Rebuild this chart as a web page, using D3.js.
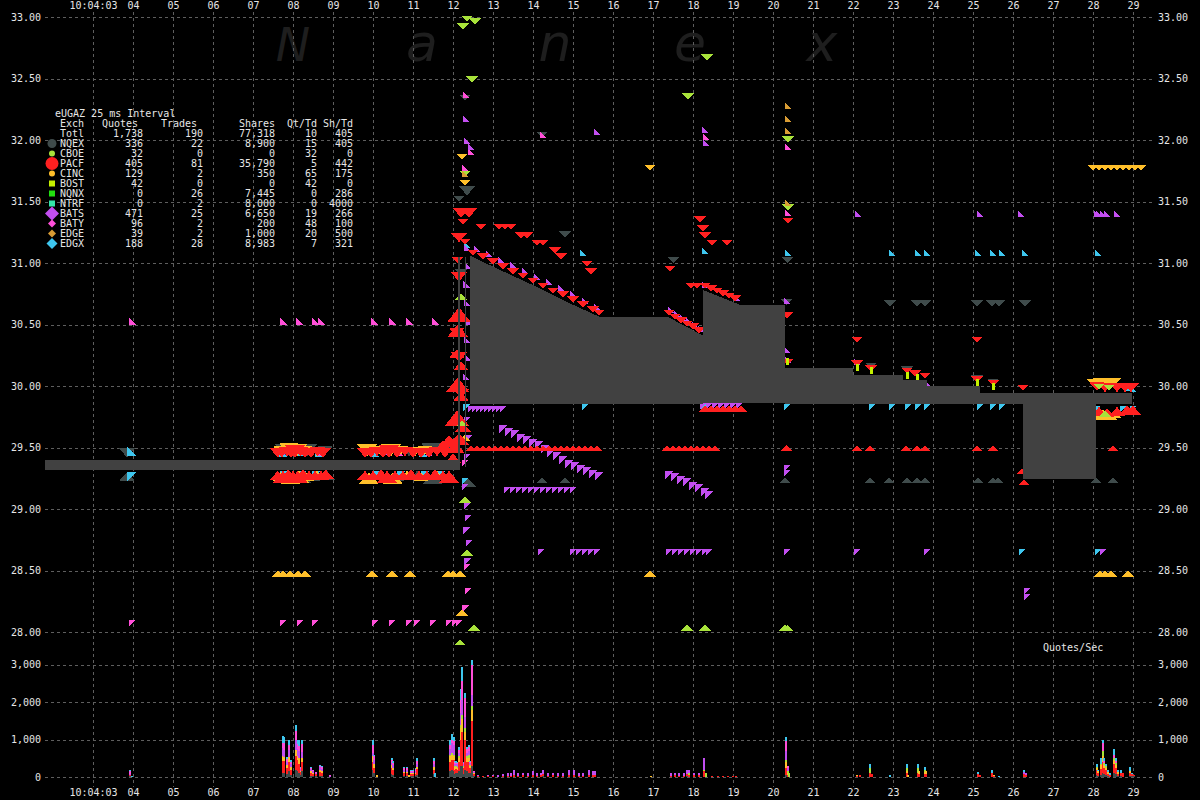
<!DOCTYPE html>
<html><head><meta charset="utf-8">
<script src="https://cdn.jsdelivr.net/npm/d3@7"></script>
<style>html,body{margin:0;padding:0;background:#000}svg{display:block}</style>
</head><body><svg id="c" width="1200" height="800"></svg>
<script>
// ---------------- DATA ----------------
const symbol = "eUGAZ";
const intervalLabel = "25 ms Interval";
const timeTicks = [3,4,5,6,7,8,9,10,11,12,13,14,15,16,17,18,19,20,21,22,23,24,25,26,27,28,29];
const timeTickLabels = ["10:04:03","04","05","06","07","08","09","10","11","12","13","14","15","16","17","18","19","20","21","22","23","24","25","26","27","28","29"];
const priceTicks = [28,28.5,29,29.5,30,30.5,31,31.5,32,32.5,33];
const volTicks = [0,1000,2000,3000];

const legendHeaders = ["Quotes","Trades","Shares","Qt/Td","Sh/Td"];
const totalRow = [1738,190,77318,10,405];
const exchNames  = ["NQEX","CBOE","PACF","CINC","BOST","NQNX","NTRF","BATS","BATY","EDGE","EDGX"];
const exchQuotes = [336,32,405,129,42,0,0,471,96,39,188];
const exchTrades = [22,0,81,2,0,26,2,25,2,2,28];
const exchShares = [8900,0,35790,350,0,7445,8000,6650,200,1000,8983];
const exchQtTd   = [15,32,5,65,42,0,0,19,48,20,7];
const exchShTd   = [405,0,442,175,0,286,4000,266,100,500,321];

// NBBO spread band (time in seconds after 10:04:00)
const nbboT   = [1.8,12.125,12.125,12.175,12.175,12.3,12.3,12.33,12.33,12.43,12.43,13.0,14.0,15.0,15.68,17.38,18.25,18.25,19.18,20.3,20.3,22.0,22.0,23.25,23.25,23.85,23.85,25.18,25.18,26.25,26.25,28.08,28.08,28.97];
const nbboBid = [29.32,29.32,29.32,29.32,29.40,29.40,29.34,29.34,29.85,29.85,29.85,29.85,29.85,29.85,29.85,29.85,29.85,29.865,29.865,29.865,29.85,29.85,29.85,29.85,29.85,29.85,29.85,29.85,29.85,29.85,29.24,29.24,29.85,29.85];
const nbboAsk = [29.40,29.40,31.05,31.05,29.40,29.40,31.05,31.05,29.85,29.85,31.06,30.97,30.82,30.66,30.56,30.56,30.41,30.78,30.66,30.66,30.15,30.15,30.09,30.09,30.05,30.05,30.00,30.00,29.94,29.94,29.94,29.94,29.94,29.94];

// quotes: [time, price, side (a=ask, b=bid), size (hundreds)]
const qNQEX = [
 [3.85,29.42,'a',2],[3.85,29.30,'b',2],
 [7.8,29.43,'a',3],[8.0,29.44,'a',2],[8.35,29.43,'a',3],[8.8,29.44,'a',2],
 [7.85,29.30,'b',2],[8.2,29.31,'b',3],[8.5,29.30,'b',2],[8.85,29.31,'b',2],
 [10.0,29.43,'a',2],[10.55,29.44,'a',2],[10.9,29.43,'a',2],[11.45,29.44,'a',3],[11.8,29.43,'a',2],
 [10.05,29.31,'b',2],[10.6,29.30,'b',2],[11.1,29.31,'b',2],[11.5,29.30,'b',3],
 [12.3,32.32,'a',1],[12.35,31.55,'a',2],[12.2,30.90,'a',1],[12.38,29.25,'b',2],[12.15,31.5,'a',1],
 [14.225,32.02,'a',1],[14.8,31.21,'a',1],[14.225,29.26,'b',1],[14.8,29.26,'b',1],
 [17.5,31.0,'a',1],[20.33,30.66,'a',1],[20.35,31.0,'a',1],[20.3,29.26,'b',1],
 [22.925,30.65,'a',1],[23.6,30.65,'a',1],[23.8,30.65,'a',1],[25.1,30.65,'a',1],[25.475,30.65,'a',1],[25.65,30.65,'a',1],[26.3,30.65,'a',1],
 [22.45,30.14,'a',1],[23.35,30.11,'a',1],[23.8,30.06,'a',1],[25.1,30.04,'a',1],[25.5,30.01,'a',1],
 [22.425,29.26,'b',1],[22.9,29.26,'b',1],[23.35,29.26,'b',1],[23.6,29.26,'b',1],[23.8,29.26,'b',1],[25.125,29.26,'b',1],[25.5,29.26,'b',1],[25.625,29.26,'b',1],[28.075,29.26,'b',1],[28.5,29.26,'b',1]
];
const qCBOE = [
 [12.25,32.90,'a',1],[12.35,32.96,'a',1],[12.55,32.94,'a',1],[12.475,32.47,'a',1],[18.35,32.65,'a',1],[17.875,32.33,'a',1],[20.375,31.98,'a',1],[20.375,31.43,'a',1],
 [12.525,28.06,'b',1],[17.85,28.06,'b',1],[18.3,28.06,'b',1],[20.3,28.06,'b',1],[20.36,28.06,'b',1],[12.175,27.94,'b',1],
 [12.2,30.75,'b',1],[12.22,29.72,'b',1],[12.3,29.1,'b',1],[12.35,28.67,'b',1],[12.3,31.7,'a',1],
 [28.15,29.97,'a',1],[28.4,29.96,'a',1],[28.3,29.80,'b',1]
];
const qPACF = [
 [7.62,29.42,'a',2],[7.72,29.42,'a',2],[7.85,29.43,'a',2],[7.95,29.42,'a',2],[8.05,29.42,'a',3],[8.18,29.43,'a',2],[8.3,29.42,'a',2],[8.45,29.42,'a',2],[8.62,29.43,'a',2],[8.75,29.42,'a',2],
 [7.62,29.31,'b',2],[7.75,29.31,'b',3],[7.88,29.32,'b',2],[8.0,29.31,'b',2],[8.12,29.31,'b',3],[8.25,29.32,'b',2],[8.4,29.31,'b',2],[8.55,29.31,'b',2],[8.7,29.31,'b',2],[8.82,29.32,'b',2],
 [9.8,29.42,'a',2],[9.95,29.42,'a',2],[10.1,29.43,'a',2],[10.25,29.42,'a',2],[10.4,29.42,'a',3],[10.6,29.42,'a',2],[10.8,29.43,'a',2],[11.0,29.42,'a',2],[11.2,29.42,'a',2],[11.4,29.42,'a',2],[11.6,29.43,'a',2],[11.8,29.42,'a',2],
 [9.8,29.31,'b',2],[10.0,29.31,'b',2],[10.2,29.32,'b',2],[10.35,29.31,'b',3],[10.55,29.31,'b',2],[10.75,29.31,'b',2],[10.95,29.32,'b',2],[11.15,29.31,'b',2],[11.35,29.31,'b',2],[11.55,29.32,'b',2],[11.75,29.31,'b',2],[11.9,29.31,'b',3],
 [11.75,29.56,'b',3],[11.9,29.60,'b',3],
 [12.2,31.37,'a',2],[12.4,31.37,'a',2],[12.25,31.31,'a',1],[12.15,31.17,'a',2],[12.3,31.15,'a',1],[12.7,31.27,'a',1],[13.15,31.27,'a',1],[13.3,31.27,'a',1],[13.45,31.27,'a',1],
 [13.7,31.20,'a',1],[13.85,31.20,'a',1],[14.1,31.14,'a',1],[14.25,31.14,'a',1],[14.55,31.08,'a',1],[14.7,31.03,'a',1],[15.35,30.97,'a',1],[15.45,30.91,'a',1],
 [12.15,30.20,'a',2],[12.1,30.40,'a',2],[12.2,29.90,'a',2],[12.15,30.85,'a',2],[12.1,31.0,'a',1],
 [12.15,30.64,'b',4],[12.12,30.50,'b',3],[12.1,30.30,'b',2],[12.12,30.07,'b',4],[12.2,29.95,'b',2],[12.1,29.80,'b',4],[12.15,29.62,'b',3],[12.05,29.55,'b',3],[12.25,29.70,'b',2],[12.2,30.20,'b',2],[12.0,29.45,'b',2],
 [12.5,31.06,'a',1],[12.75,31.03,'a',1],[13.0,30.99,'a',1],[13.25,30.95,'a',1],[13.5,30.91,'a',1],[13.75,30.87,'a',1],[14.0,30.83,'a',1],[14.25,30.79,'a',1],[14.5,30.75,'a',1],[14.75,30.72,'a',1],[15.0,30.68,'a',1],[15.25,30.64,'a',1],[15.5,30.60,'a',1],[15.65,30.57,'a',1],
 [12.45,29.52,'b',1],[12.6,29.52,'b',1],[12.75,29.52,'b',1],[12.9,29.52,'b',1],[13.05,29.52,'b',1],[13.2,29.52,'b',1],[13.35,29.52,'b',1],[13.5,29.52,'b',1],[13.65,29.52,'b',1],[13.8,29.52,'b',1],[13.95,29.52,'b',1],
 [14.1,29.52,'b',1],[14.25,29.52,'b',1],[14.4,29.52,'b',1],[14.55,29.52,'b',1],[14.7,29.52,'b',1],[14.85,29.52,'b',1],[15.0,29.52,'b',1],[15.15,29.52,'b',1],[15.3,29.52,'b',1],[15.45,29.52,'b',1],[15.6,29.52,'b',1],
 [17.35,29.52,'b',1],[17.5,29.52,'b',1],[17.65,29.52,'b',1],[17.8,29.52,'b',1],[17.95,29.52,'b',1],[18.1,29.52,'b',1],[18.25,29.52,'b',1],[18.4,29.52,'b',1],[18.55,29.52,'b',1],
 [17.4,30.57,'a',1],[17.55,30.54,'a',1],[17.7,30.51,'a',1],[17.85,30.48,'a',1],[18.0,30.46,'a',1],[18.15,30.43,'a',1],
 [17.95,30.79,'a',1],[18.1,30.79,'a',1],[18.3,30.79,'a',1],[18.45,30.77,'a',1],[18.6,30.75,'a',1],[18.75,30.73,'a',1],[18.9,30.71,'a',1],[19.05,30.69,'a',1],
 [18.3,29.84,'b',1],[18.45,29.84,'b',1],[18.6,29.84,'b',1],[18.75,29.84,'b',1],[18.9,29.84,'b',1],[19.05,29.84,'b',1],[19.2,29.84,'b',1],
 [18.175,31.33,'a',1],[18.25,31.26,'a',1],[18.3,31.20,'a',1],[18.475,31.14,'a',1],[18.85,31.14,'a',1],[17.425,30.93,'a',1],
 [20.35,30.55,'a',1],[20.37,30.17,'a',1],[20.375,31.32,'a',1],[20.33,29.52,'b',1],
 [22.1,30.35,'a',1],[25.1,30.35,'a',1],
 [22.1,30.16,'a',1],[22.45,30.12,'a',1],[23.35,30.10,'a',1],[23.55,30.08,'a',1],[23.8,30.06,'a',1],[25.1,30.03,'a',1],[25.5,30.00,'a',1],[26.25,29.96,'a',1],
 [22.1,29.52,'b',1],[22.425,29.52,'b',1],[23.325,29.52,'b',1],[23.6,29.52,'b',1],[23.8,29.52,'b',1],[25.1,29.52,'b',1],[25.5,29.52,'b',1],[28.5,29.52,'b',1],
 [26.22,29.33,'b',1],[26.275,29.24,'b',1],
 [28.1,29.96,'a',2],[28.3,29.95,'a',2],[28.6,29.95,'a',2],[28.8,29.95,'a',2],[28.95,29.95,'a',2],
 [28.15,29.83,'b',2],[28.35,29.82,'b',2],[28.6,29.83,'b',2],[28.85,29.84,'b',2],[29.0,29.84,'b',2]
];
const qCINC = [
 [7.7,29.44,'a',2],[7.9,29.44,'a',3],[8.1,29.43,'a',3],[8.28,29.44,'a',2],[8.6,29.43,'a',2],
 [7.68,29.30,'b',2],[7.95,29.30,'b',3],[8.15,29.31,'b',3],[8.35,29.30,'b',2],[8.6,29.31,'b',2],
 [9.85,29.43,'a',3],[10.15,29.44,'a',2],[10.45,29.43,'a',3],[10.7,29.44,'a',2],[11.05,29.43,'a',2],[11.3,29.44,'a',2],
 [9.9,29.30,'b',3],[10.2,29.31,'b',2],[10.5,29.30,'b',3],[10.85,29.31,'b',2],[11.2,29.30,'b',2],[11.6,29.31,'b',2],
 [7.625,28.50,'b',1],[7.75,28.50,'b',1],[7.925,28.50,'b',1],[8.125,28.50,'b',1],[8.3,28.50,'b',1],[9.975,28.50,'b',1],[10.475,28.50,'b',1],[10.925,28.50,'b',1],
 [11.875,28.50,'b',1],[12.0,28.50,'b',1],[12.175,28.50,'b',1],[16.925,28.50,'b',1],[28.175,28.50,'b',1],[28.3,28.50,'b',1],[28.45,28.50,'b',1],[28.875,28.50,'b',1],
 [12.3,31.63,'a',1],[12.225,31.84,'a',1],[12.28,29.6,'b',1],[12.225,28.18,'b',1],[16.925,31.75,'a',1],
 [28.0,31.75,'a',1],[28.15,31.75,'a',1],[28.3,31.75,'a',1],[28.45,31.75,'a',1],[28.6,31.75,'a',1],[28.75,31.75,'a',1],[28.9,31.75,'a',1],[29.05,31.75,'a',1],[29.2,31.75,'a',1],
 [28.05,29.98,'a',2],[28.2,29.99,'a',2],[28.35,29.98,'a',2],[28.5,29.99,'a',2],[28.65,29.97,'a',1],
 [28.08,29.80,'b',2],[28.25,29.81,'b',2],[28.4,29.80,'b',2],[28.55,29.79,'b',1]
];
const qBOST = [
 [20.36,30.17,'a',1],[22.1,30.12,'a',1],[22.45,30.10,'a',1],[23.35,30.06,'a',1],[23.6,30.04,'a',1],[25.1,30.00,'a',1],[25.5,29.97,'a',1]
];
const qBATS = [
 [7.72,29.44,'a',1],[8.45,29.44,'a',1],[10.4,29.44,'a',1],[11.0,29.44,'a',1],[10.9,29.30,'b',1],
 [12.325,32.15,'a',1],[12.35,31.97,'a',1],[12.45,31.92,'a',1],
 [12.35,31.10,'a',1],[12.38,30.95,'a',1],[12.33,30.80,'a',1],[12.36,30.65,'a',1],[12.4,30.50,'a',1],[12.35,30.35,'a',1],[12.38,30.20,'a',1],[12.33,30.05,'a',1],
 [12.35,29.75,'b',1],[12.4,29.60,'b',1],[12.35,29.45,'b',1],[12.3,29.20,'b',1],[12.35,29.05,'b',1],[12.38,28.95,'b',1],[12.33,28.85,'b',1],[12.4,28.75,'b',1],[12.36,28.60,'b',1],
 [12.6,31.09,'a',1],[12.9,31.05,'a',1],[13.2,31.00,'a',1],[13.5,30.96,'a',1],[13.8,30.91,'a',1],[14.1,30.86,'a',1],[14.4,30.82,'a',1],[14.7,30.77,'a',1],[15.0,30.72,'a',1],[15.3,30.67,'a',1],[15.6,30.62,'a',1],
 [12.45,29.84,'b',1],[12.55,29.84,'b',1],[12.65,29.84,'b',1],[12.75,29.84,'b',1],[12.85,29.84,'b',1],[12.95,29.84,'b',1],[13.05,29.84,'b',1],[13.15,29.84,'b',1],[13.25,29.84,'b',1],
 [13.25,29.68,'b',2],[13.4,29.66,'b',2],[13.55,29.64,'b',2],[13.7,29.61,'b',2],[13.85,29.59,'b',2],[14.0,29.57,'b',2],[14.15,29.55,'b',2],[14.3,29.52,'b',2],
 [14.45,29.49,'b',2],[14.6,29.46,'b',2],[14.75,29.43,'b',2],[14.9,29.40,'b',2],[15.05,29.38,'b',2],[15.2,29.36,'b',2],[15.35,29.34,'b',2],[15.5,29.32,'b',2],[15.65,29.30,'b',2],
 [13.35,29.18,'b',1],[13.5,29.18,'b',1],[13.65,29.18,'b',1],[13.8,29.18,'b',1],[13.95,29.18,'b',1],[14.1,29.18,'b',1],[14.25,29.18,'b',1],[14.4,29.18,'b',1],[14.55,29.18,'b',1],[14.7,29.18,'b',1],[14.85,29.18,'b',1],[15.0,29.18,'b',1],
 [14.2,28.675,'b',1],[15.0,28.675,'b',1],[15.15,28.675,'b',1],[15.3,28.675,'b',1],[15.45,28.675,'b',1],[15.6,28.675,'b',1],
 [17.4,28.675,'b',1],[17.55,28.675,'b',1],[17.7,28.675,'b',1],[17.85,28.675,'b',1],[18.0,28.675,'b',1],[18.15,28.675,'b',1],[18.3,28.675,'b',1],[18.4,28.675,'b',1],
 [20.35,28.675,'b',1],[22.1,28.675,'b',1],[23.85,28.675,'b',1],[28.25,28.675,'b',1],
 [15.6,32.04,'a',1],[18.3,32.06,'a',1],[18.33,31.95,'a',1],
 [17.45,30.59,'a',1],[17.6,30.56,'a',1],[17.75,30.53,'a',1],[17.9,30.50,'a',1],[18.05,30.47,'a',1],[18.2,30.44,'a',1],
 [18.3,30.80,'a',1],[19.1,30.69,'a',1],
 [17.4,29.31,'b',2],[17.55,29.29,'b',2],[17.7,29.27,'b',2],[17.85,29.25,'b',2],[18.0,29.22,'b',2],[18.15,29.20,'b',2],[18.3,29.17,'b',2],[18.4,29.15,'b',2],
 [18.25,29.86,'b',1],[18.4,29.86,'b',1],[18.55,29.86,'b',1],[18.7,29.86,'b',1],[18.85,29.86,'b',1],[19.0,29.86,'b',1],[19.15,29.86,'b',1],
 [20.35,30.67,'a',1],[20.35,30.27,'a',1],[20.37,30.19,'a',1],[20.35,29.36,'b',1],[20.35,29.32,'b',1],
 [22.125,31.37,'a',1],[25.175,31.37,'a',1],[26.2,31.37,'a',1],[28.1,31.37,'a',1],[28.15,31.37,'a',1],[28.25,31.37,'a',1],[28.35,31.37,'a',1],[28.6,31.37,'a',1],
 [22.1,30.17,'a',1],[23.85,30.00,'a',1],
 [26.35,28.36,'b',1],[26.35,28.31,'b',1]
];
const qBATY = [
 [3.975,30.50,'a',1],[7.75,30.50,'a',1],[8.15,30.50,'a',1],[8.55,30.50,'a',1],[8.7,30.50,'a',1],[10.025,30.50,'a',1],[10.475,30.50,'a',1],[10.9,30.50,'a',1],[11.55,30.50,'a',1],
 [3.975,28.10,'b',1],[7.75,28.10,'b',1],[8.175,28.10,'b',1],[8.55,28.10,'b',1],[10.05,28.10,'b',1],[10.475,28.10,'b',1],[10.9,28.10,'b',1],[11.1,28.10,'b',1],[11.5,28.10,'b',1],[11.9,28.10,'b',1],[12.05,28.10,'b',1],[12.15,28.10,'b',1],
 [8.68,29.43,'a',2],[10.65,29.43,'a',2],[11.4,29.43,'a',1],
 [12.325,32.34,'a',1],[12.45,31.88,'a',1],[12.3,31.75,'a',1],[12.3,29.40,'b',1],[12.38,28.36,'b',1],[12.32,28.22,'b',1],[12.35,28.55,'b',1],
 [14.25,32.02,'a',1],[18.33,32.00,'a',1],[20.375,31.92,'a',1],[20.375,31.38,'a',1]
];
const qEDGE = [
 [20.375,32.25,'a',1],[20.375,32.15,'a',1],[20.375,32.05,'a',1],[20.375,31.46,'a',1],[12.3,31.70,'a',1]
];
const qEDGX = [
 [3.97,29.43,'a',2],[3.97,29.30,'b',2],
 [7.75,29.42,'a',2],[8.2,29.43,'a',2],[8.65,29.42,'a',2],[7.78,29.31,'b',2],[8.22,29.31,'b',2],[8.58,29.31,'b',2],
 [10.05,29.42,'a',2],[10.65,29.43,'a',2],[11.25,29.42,'a',2],[10.1,29.31,'b',2],[10.7,29.31,'b',2],[11.3,29.31,'b',2],[11.7,29.31,'b',2],
 [12.35,31.12,'a',1],[12.33,29.85,'b',1],[12.3,29.25,'b',1],
 [15.25,31.06,'a',1],[15.3,29.85,'b',1],[18.3,31.07,'a',1],[18.28,29.85,'b',1],[20.375,31.06,'a',1],[20.35,29.85,'b',1],
 [22.975,31.06,'a',1],[23.625,31.06,'a',1],[23.85,31.06,'a',1],[25.125,31.06,'a',1],[25.5,31.06,'a',1],[25.725,31.06,'a',1],[26.3,31.06,'a',1],[28.125,31.06,'a',1],
 [22.475,29.85,'b',1],[22.975,29.85,'b',1],[23.375,29.85,'b',1],[23.625,29.85,'b',1],[23.85,29.85,'b',1],[25.175,29.85,'b',1],[25.5,29.85,'b',1],[25.725,29.85,'b',1],
 [26.225,28.675,'b',1],[28.125,28.675,'b',1],
 [28.9,29.96,'a',1],[29.0,29.95,'a',1],[28.1,29.84,'b',1],[28.75,29.84,'b',1],[29.0,29.84,'b',1]
];

// Quotes/Sec stacked bars: [NQEX, PACF, CINC, CBOE, BATS, BATY, EDGX]
const volT = [3.90,3.95,7.725,7.75,7.825,7.875,7.925,8.05,8.10,8.125,8.175,8.20,8.425,8.475,8.55,8.65,8.70,8.90,
 9.975,10.0,10.075,10.45,10.475,10.75,10.825,10.875,10.925,10.975,11.05,11.075,11.50,11.525,
 11.90,11.95,12.0,12.025,12.05,12.10,12.125,12.175,12.20,12.25,12.275,12.325,12.375,12.40,12.45,12.50,
 12.6,12.725,12.85,12.975,13.1,13.225,13.35,13.425,13.5,13.6,13.725,13.85,13.975,14.075,14.175,14.225,14.35,14.475,14.6,14.725,14.875,15.0,15.125,15.225,15.375,15.475,15.525,
 16.925,17.425,17.525,17.625,17.75,17.825,17.875,18.0,18.125,18.25,18.30,18.45,18.6,18.725,18.85,18.975,19.05,
 20.3,20.35,20.375,22.075,22.15,22.4,22.45,22.9,23.325,23.35,23.6,23.625,23.775,23.8,25.1,25.15,25.45,25.5,25.625,26.25,26.3,
 28.075,28.10,28.175,28.225,28.25,28.30,28.35,28.40,28.50,28.55,28.60,28.675,28.725,28.90,28.95,29.0];
const volMix = [
 [20,40,0,0,30,80,20],[0,0,0,0,0,0,40],[120,300,150,0,200,150,180],[100,320,120,0,180,200,160],[80,150,80,0,100,60,60],[150,250,130,0,200,120,150],[60,140,80,0,80,40,50],
 [200,350,180,0,250,250,170],[150,300,120,0,170,150,110],[100,260,150,0,180,150,150],[50,80,40,0,50,20,30],[150,250,120,0,150,200,120],[30,90,40,0,50,30,30],[20,60,30,0,40,30,20],
 [20,50,0,0,30,30,0],[40,100,50,0,70,30,40],[30,90,40,0,60,50,30],[0,0,0,0,20,40,0],
 [200,200,150,0,100,200,150],[100,150,100,0,100,100,50],[0,0,60,0,0,0,0],[80,150,80,0,70,80,60],[60,120,60,0,80,60,50],[40,60,40,0,60,40,40],[20,80,40,0,40,60,40],[0,0,60,0,0,0,0],
 [30,50,30,0,30,30,30],[30,50,30,0,30,30,30],[30,60,30,0,50,40,40],[60,150,60,0,80,80,70],[80,120,60,0,100,60,80],[0,0,0,0,0,0,100],
 [150,250,150,50,150,100,150],[200,250,150,50,250,100,150],[150,300,100,50,250,100,120],[80,100,80,30,60,40,40],[100,120,50,20,60,30,40],[100,100,50,30,60,40,30],[150,250,100,50,100,80,70],
 [300,700,300,100,300,350,300],[300,900,350,100,400,500,380],[80,150,40,30,50,30,20],[200,800,200,100,300,500,150],[150,250,100,50,100,100,50],[100,300,100,100,100,100,50],[100,150,50,30,50,30,20],
 [300,1200,300,100,300,800,120],[30,60,20,10,20,10,0],
 [0,20,0,0,30,0,0],[0,40,0,0,0,0,0],[0,20,0,0,30,0,0],[0,30,0,0,30,0,0],[0,0,0,0,60,0,0],[0,30,0,0,50,0,0],[0,40,0,0,80,0,0],[0,30,0,0,80,0,0],[0,60,0,0,120,0,0],[0,40,0,0,60,0,0],
 [0,50,0,0,70,0,0],[0,40,0,0,80,0,0],[0,60,0,0,110,0,0],[0,40,0,0,60,0,0],[0,50,0,0,60,0,0],[30,50,0,0,100,0,0],[0,40,0,0,60,0,0],[0,50,0,0,60,0,0],[0,40,0,0,80,0,0],[0,40,0,0,60,0,0],
 [0,60,0,0,140,0,0],[0,60,0,0,120,0,0],[0,40,0,0,60,0,0],[0,40,0,0,60,0,0],[0,60,0,0,140,0,0],[0,50,0,0,100,0,0],[0,50,0,0,100,0,0],
 [0,0,30,0,0,0,0],[0,40,0,0,60,0,0],[0,50,0,0,50,0,0],[0,40,0,0,80,0,0],[0,40,0,0,80,0,0],[20,60,0,0,120,0,0],[0,60,0,60,80,0,0],[0,60,0,0,40,0,0],[0,60,0,0,40,0,0],
 [0,150,0,50,300,0,0],[0,0,0,100,0,0,0],[0,30,0,0,0,0,0],[0,30,0,0,0,0,0],[0,30,0,0,0,0,0],[0,30,0,0,0,0,0],[0,30,0,0,0,0,0],[0,30,0,0,0,0,0],
 [50,200,150,50,250,250,110],[0,50,50,50,100,50,0],[0,0,0,100,0,0,0],[0,30,30,0,0,0,0],[0,50,0,0,0,0,0],[0,100,0,150,0,0,100],[0,80,0,0,0,0,0],[0,0,0,0,0,0,60],
 [0,100,50,100,0,0,100],[0,0,60,0,0,0,0],[0,100,0,150,0,0,100],[0,80,70,0,0,0,0],[0,80,50,60,0,0,80],[0,80,70,0,0,0,0],[0,80,0,0,0,0,60],[0,60,0,0,0,0,0],[0,100,0,0,0,0,90],[0,30,30,0,0,0,0],[0,0,0,0,0,0,40],
 [0,80,0,0,60,0,50],[0,60,0,0,40,0,0],
 [60,120,60,30,0,0,90],[40,60,50,0,0,0,50],[60,150,100,50,0,0,155],[100,300,150,150,0,200,100],[80,150,100,50,0,50,90],[60,120,60,60,0,0,60],[30,60,50,0,0,0,50],[0,50,0,0,0,0,50],
 [100,250,100,50,0,100,145],[80,150,100,50,0,50,85],[30,60,50,0,0,0,50],[30,80,0,0,0,0,80],[0,100,0,0,0,0,0],[30,80,50,0,0,0,120],[30,40,0,0,0,0,30],[20,30,0,0,0,0,0]
];

// ---------------- STYLE ----------------
const FONT = "'DejaVu Sans Mono', 'Liberation Mono', monospace";
const TXT = "#e6e6e6";
const GRID = "#5e5e5e";
const C = {NQEX:"#3f4b4b",CBOE:"#a8e23a",PACF:"#ff2020",CINC:"#ffbf2a",BOST:"#c4f000",NQNX:"#22e010",NTRF:"#33e6a8",
           BATS:"#c24ef0",BATY:"#ff4fd8",EDGE:"#d99c34",EDGX:"#3ec6ee"};
const volColors = [C.NQEX,C.PACF,C.CINC,C.CBOE,C.BATS,C.BATY,C.EDGX];

// ---------------- DRAW ----------------
const svg = d3.select("#c");
svg.append("rect").attr("width",1200).attr("height",800).attr("fill","#000");

const x  = d3.scaleLinear().domain([1.8,29.5]).range([45,1153]);
const y  = d3.scaleLinear().domain([28,33]).range([632,17]);
const yv = d3.scaleLinear().domain([0,3000]).range([777,664.5]);

// watermark
const wm = svg.append("g").attr("fill","#1e1e1e").attr("font-family","'DejaVu Sans', sans-serif")
  .attr("font-style","italic").attr("text-anchor","middle");
[["N",293,46],["a",422,52],["n",555,52],["e",690,52],["x",822,52]].forEach(d=>{
  wm.append("text").attr("x",d[1]).attr("y",61).attr("font-size",d[2]).text(d[0]);
});

function styleAxis(g){
  g.select(".domain").remove();
  g.selectAll(".tick line").attr("stroke",GRID).attr("stroke-dasharray","3,3").attr("shape-rendering","crispEdges");
  g.selectAll(".tick text").attr("fill",TXT).attr("font-family",FONT).attr("font-size",10);
}
// price axes
svg.append("g").attr("transform","translate(45,0)")
  .call(d3.axisLeft(y).tickValues(priceTicks).tickSize(-1108).tickPadding(4).tickFormat(d3.format(".2f"))).call(styleAxis);
svg.append("g").attr("transform","translate(1153,0)")
  .call(d3.axisRight(y).tickValues(priceTicks).tickSize(0).tickPadding(5).tickFormat(d3.format(".2f"))).call(styleAxis);
// volume axes
svg.append("g").attr("transform","translate(45,0)")
  .call(d3.axisLeft(yv).tickValues(volTicks).tickSize(-1108).tickPadding(4).tickFormat(d3.format(","))).call(styleAxis);
svg.append("g").attr("transform","translate(1153,0)")
  .call(d3.axisRight(yv).tickValues(volTicks).tickSize(0).tickPadding(5).tickFormat(d3.format(","))).call(styleAxis);
// time axes
svg.append("g").attr("transform","translate(0,12)")
  .call(d3.axisTop(x).tickValues(timeTicks).tickSize(-775).tickPadding(3).tickFormat((d,i)=>timeTickLabels[i])).call(styleAxis);
svg.append("g").attr("transform","translate(0,787)")
  .call(d3.axisBottom(x).tickValues(timeTicks).tickSize(0).tickPadding(2).tickFormat((d,i)=>timeTickLabels[i])).call(styleAxis);

// Quotes/Sec label
svg.append("text").attr("x",1043).attr("y",651).attr("fill",TXT).attr("font-family",FONT).attr("font-size",10).text("Quotes/Sec");

// volume bars
const vb = svg.append("g").attr("shape-rendering","crispEdges");
volT.forEach((t,i)=>{
  let acc=0;
  volMix[i].forEach((v,k)=>{
    if(v<=0) return;
    vb.append("rect").attr("x",x(t)).attr("width",1.6)
      .attr("y",yv(acc+v)).attr("height",yv(acc)-yv(acc+v)).attr("fill",volColors[k]);
    acc+=v;
  });
});

// quote markers
function markPath(shape, side, s){
  if(shape==="iso"){ const w=8+4*s, h=3+3*s;
    return side==="a" ? `M0,0L${-w/2},${-h}L${w/2},${-h}Z` : `M0,0L${-w/2},${h}L${w/2},${h}Z`; }
  if(shape==="rt"){ const a=5+2*s;
    return side==="a" ? `M${-a/2},0L${-a/2},${-a}L${a/2},0Z` : `M${-a/2},0L${a/2},0L${-a/2},${a}Z`; }
  return side==="a" ? "M-1.5,0h3v-7h-3Z" : "M-1.5,0h3v7h-3Z";
}
const series = [
  {n:"NQEX",shape:"iso",d:qNQEX},{n:"EDGX",shape:"rt",d:qEDGX},{n:"BATY",shape:"rt",d:qBATY},{n:"BATS",shape:"rt",d:qBATS},
  {n:"CINC",shape:"iso",d:qCINC},{n:"PACF",shape:"iso",d:qPACF},{n:"CBOE",shape:"iso",d:qCBOE},{n:"BOST",shape:"bar",d:qBOST},{n:"EDGE",shape:"rt",d:qEDGE}
];
const mk = svg.append("g").attr("shape-rendering","crispEdges");
series.forEach(sr=>{
  mk.append("g").selectAll("path").data(sr.d).join("path")
    .attr("transform",d=>`translate(${x(d[0])},${y(d[1])})`)
    .attr("d",d=>markPath(sr.shape,d[2],d[3]))
    .attr("fill",C[sr.n]);
});

// NBBO band
const band = d3.area().x((d,i)=>x(nbboT[i])).y0((d,i)=>y(nbboBid[i])).y1((d,i)=>y(nbboAsk[i]));
svg.append("path").attr("d",band(nbboT)).attr("fill","#414141").attr("shape-rendering","crispEdges");

// legend table
const lg = svg.append("g").attr("font-family",FONT).attr("font-size",10).attr("fill",TXT);
const rowY = r => 117 + r*10;
lg.append("text").attr("x",55).attr("y",rowY(0)).text(symbol+" "+intervalLabel);
lg.append("text").attr("x",60).attr("y",rowY(1)).text("Exch");
const hdrX = [138,197,275,317,353];
const colX = [143,203,275,317,353];
legendHeaders.forEach((h,i)=>lg.append("text").attr("x",hdrX[i]).attr("y",rowY(1)).attr("text-anchor","end").text(h));
const fmtC = d3.format(",");
const fmts = [fmtC,fmtC,fmtC,d=>String(d),d=>String(d)];
lg.append("text").attr("x",60).attr("y",rowY(2)).text("Totl");
totalRow.forEach((v,i)=>lg.append("text").attr("x",colX[i]).attr("y",rowY(2)).attr("text-anchor","end").text(fmts[i](v)));
const legShape = {NQEX:["c",4.5],CBOE:["c",3],PACF:["c",6.5],CINC:["c",3],BOST:["s",3],NQNX:["s",3],NTRF:["s",3],BATS:["d",7],BATY:["d",4],EDGE:["d",4],EDGX:["d",5.5]};
exchNames.forEach((n,r)=>{
  const yy = rowY(r+3);
  const cy = yy-3.5;
  const sh = legShape[n];
  if(sh[0]==="c") lg.append("circle").attr("cx",52).attr("cy",cy).attr("r",sh[1]).attr("fill",C[n]);
  else if(sh[0]==="s") lg.append("rect").attr("x",52-sh[1]).attr("y",cy-sh[1]).attr("width",2*sh[1]).attr("height",2*sh[1]).attr("fill",C[n]);
  else lg.append("path").attr("d",`M52,${cy-sh[1]}L${52+sh[1]},${cy}L52,${cy+sh[1]}L${52-sh[1]},${cy}Z`).attr("fill",C[n]);
  lg.append("text").attr("x",60).attr("y",yy).text(n);
  const vals=[exchQuotes[r],exchTrades[r],exchShares[r],exchQtTd[r],exchShTd[r]];
  vals.forEach((v,i)=>lg.append("text").attr("x",colX[i]).attr("y",yy).attr("text-anchor","end").text(fmts[i](v)));
});
</script>
</body></html>
